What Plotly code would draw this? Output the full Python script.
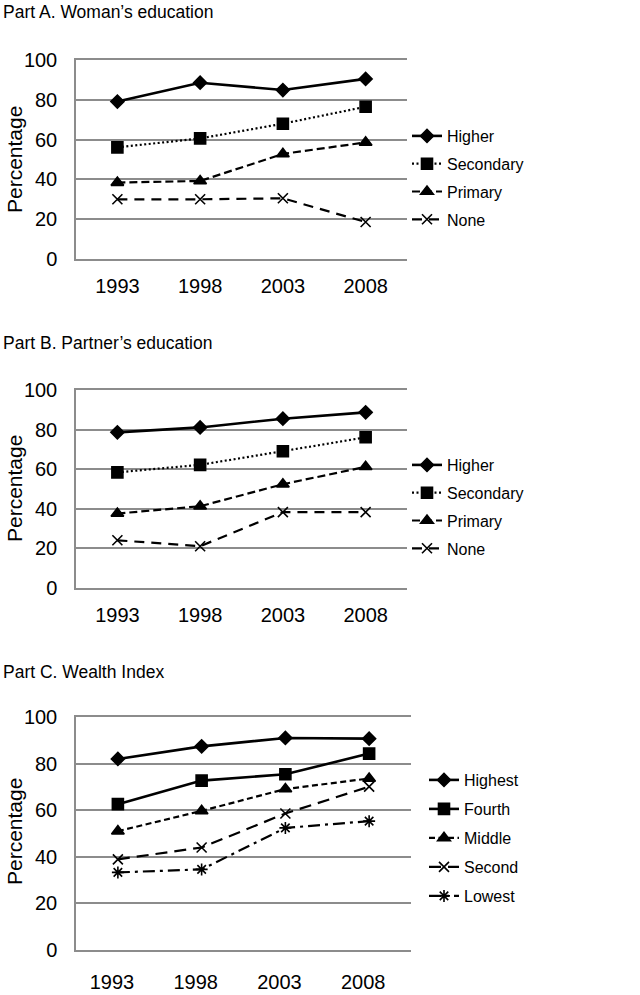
import plotly.graph_objects as go

years = ["1993", "1998", "2003", "2008"]

# Part A. Woman's education
a_names = ["Higher", "Secondary", "Primary", "None"]
a_higher = [79.1, 88.6, 84.9, 90.5]
a_secondary = [56.1, 60.6, 68.0, 76.5]
a_primary = [38.4, 39.2, 52.8, 58.6]
a_none = [30.0, 30.0, 30.5, 18.6]

# Part B. Partner's education
b_names = ["Higher", "Secondary", "Primary", "None"]
b_higher = [78.6, 81.1, 85.5, 88.7]
b_secondary = [58.4, 62.2, 69.1, 76.1]
b_primary = [37.6, 41.3, 52.4, 61.2]
b_none = [24.1, 21.1, 38.3, 38.3]

# Part C. Wealth Index
c_names = ["Highest", "Fourth", "Middle", "Second", "Lowest"]
c_highest = [82.0, 87.4, 91.0, 90.7]
c_fourth = [62.6, 72.7, 75.4, 84.3]
c_middle = [51.0, 59.7, 69.1, 73.6]
c_second = [38.9, 44.0, 58.6, 70.1]
c_lowest = [33.3, 34.6, 52.4, 55.3]

y_ticks = [0, 20, 40, 60, 80, 100]

BLACK = "#000000"
GRID = "#8c8c8c"
FONT = "Liberation Sans, Arial, sans-serif"

fig = go.Figure()

def add(name, vals, dash, symbol, msize, xa, ya, legend, grp, lw=2.2, mlw=1.6):
    fig.add_trace(go.Scatter(
        x=years, y=vals, name=name, mode="lines+markers",
        line=dict(color=BLACK, width=lw, dash=dash),
        marker=dict(symbol=symbol, size=msize, color=BLACK,
                    line=dict(color=BLACK, width=mlw)),
        xaxis=xa, yaxis=ya, legend=legend, legendgroup=grp,
    ))

DOT = "2px,2.5px"
DASH_P = "8px,4px"
DASH_N = "10px,7px"

# Panel A
add(a_names[0], a_higher, "solid", "diamond", 10, "x", "y", "legend", "a0", lw=2.6)
add(a_names[1], a_secondary, DOT, "square", 11, "x", "y", "legend", "a1")
add(a_names[2], a_primary, DASH_P, "triangle-up", 11, "x", "y", "legend", "a2")
add(a_names[3], a_none, DASH_N, "x-thin-open", 10, "x", "y", "legend", "a3")

# Panel B
add(b_names[0], b_higher, "solid", "diamond", 10, "x2", "y2", "legend2", "b0", lw=2.6)
add(b_names[1], b_secondary, DOT, "square", 11, "x2", "y2", "legend2", "b1")
add(b_names[2], b_primary, DASH_P, "triangle-up", 11, "x2", "y2", "legend2", "b2")
add(b_names[3], b_none, DASH_N, "x-thin-open", 10, "x2", "y2", "legend2", "b3")

# Panel C
add(c_names[0], c_highest, "solid", "diamond", 10, "x3", "y3", "legend3", "c0", lw=2.6)
add(c_names[1], c_fourth, "solid", "square", 11, "x3", "y3", "legend3", "c1", lw=2.6)
add(c_names[2], c_middle, "6px,3.5px", "triangle-up", 11, "x3", "y3", "legend3", "c2")
add(c_names[3], c_second, "12px,7px", "x-thin-open", 10, "x3", "y3", "legend3", "c3")
add(c_names[4], c_lowest, "12px,5px,3px,5px", "asterisk-open", 10, "x3", "y3", "legend3", "c4")

W, H = 640, 995

def py(p):
    return 1 - p / H

def xaxis(dom, anchor, standoff, shift=0):
    return dict(domain=dom, type="category", range=[-0.5, 3.5], anchor=anchor,
                showgrid=False, zeroline=False, showline=True, mirror=True,
                linecolor=GRID, linewidth=1.5,
                ticks="", tickfont=dict(size=20, color=BLACK, family=FONT),
                ticklabelstandoff=standoff, ticklabelshift=shift, fixedrange=True)

def yaxis(top, bot, anchor):
    return dict(domain=[py(bot), py(top)], range=[0, 100], tickvals=y_ticks,
                showgrid=True, gridcolor=GRID, gridwidth=1.5,
                zeroline=False, showline=True, linecolor=GRID, linewidth=1.5,
                ticks="", tickfont=dict(size=20, color=BLACK, family=FONT),
                ticklabelstandoff=13, anchor=anchor, fixedrange=True)

dA = [76 / W, 407 / W]
dC = [76 / W, 411 / W]

def legend(x, ytop, gap):
    return dict(x=x, y=ytop, xanchor="left", yanchor="top",
                font=dict(size=16, color=BLACK, family=FONT),
                bgcolor="rgba(0,0,0,0)", tracegroupgap=gap, itemwidth=30)

fig.update_layout(
    width=W, height=H,
    margin=dict(l=0, r=0, t=0, b=0, autoexpand=False),
    paper_bgcolor="white", plot_bgcolor="white",
    font=dict(family=FONT, color=BLACK),
    xaxis=xaxis(dA, "y", 8), yaxis=yaxis(60, 259, "x"),
    xaxis2=xaxis(dA, "y2", 8), yaxis2=yaxis(390, 588, "x2"),
    xaxis3=xaxis(dC, "y3", 13, shift=-6), yaxis3=yaxis(717, 950, "x3"),
    legend=legend(407 / W, py(119), 4),
    legend2=legend(407 / W, py(448), 4),
    legend3=legend(424 / W, py(763), 5.2),
    showlegend=True,
)

titles = [("Part A. Woman\u2019s education", 12), ("Part B. Partner\u2019s education", 343),
          ("Part C. Wealth Index", 672)]
for t, yc in titles:
    fig.add_annotation(text=t, x=1 / W, y=py(yc), xref="paper", yref="paper",
                       xanchor="left", yanchor="middle", showarrow=False,
                       font=dict(size=17.5, color=BLACK, family=FONT))

for yc in [160, 489, 832]:
    fig.add_annotation(text="Percentage", x=14 / W, y=py(yc), xref="paper", yref="paper",
                       xanchor="center", yanchor="middle", showarrow=False, textangle=-90,
                       font=dict(size=21, color=BLACK, family=FONT))

fig.write_html("out.html", config={"displayModeBar": False},
               post_script="document.body.style.margin='0';")
